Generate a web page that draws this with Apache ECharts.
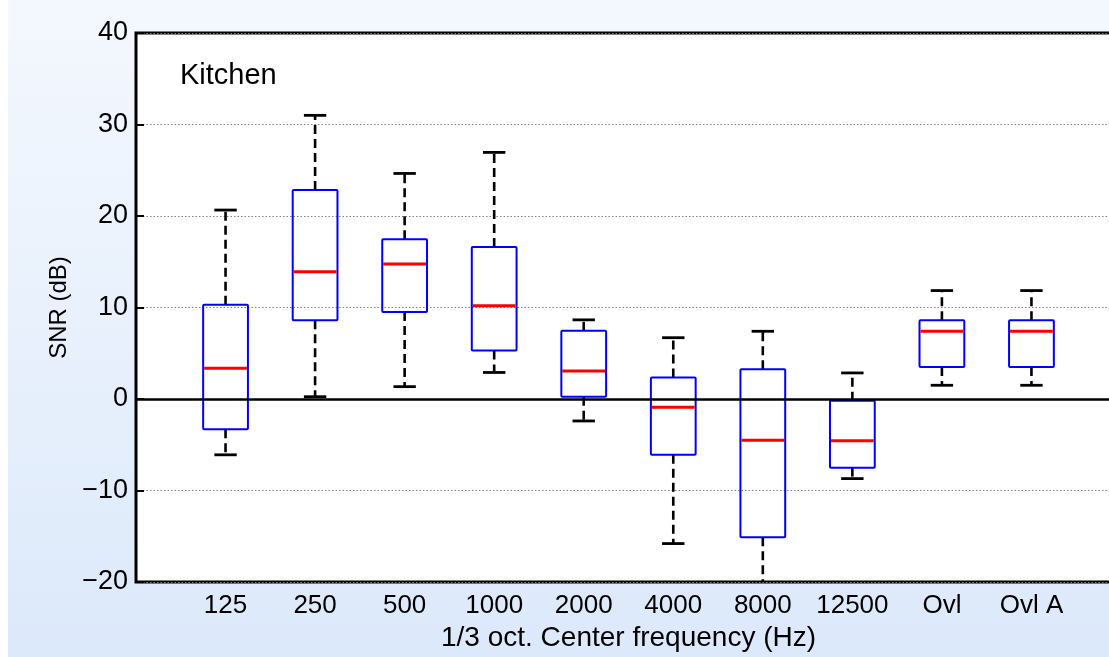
<!DOCTYPE html>
<html>
<head>
<meta charset="utf-8">
<title>Kitchen SNR boxplot</title>
<script src="https://cdn.jsdelivr.net/npm/echarts@6/dist/echarts.min.js"></script>
<style>
  html, body { margin: 0; padding: 0; background: #ffffff; }
  #chart { width: 1109px; height: 657px; }
</style>
</head>
<body>
<div id="chart"></div>
<script>
// ---- Data ----
const categories = ['125', '250', '500', '1000', '2000', '4000', '8000', '12500', 'Ovl', 'Ovl A'];
const whiskerLow  = [-6.1, 0.25, 1.35, 2.9, -2.4, -15.8, -22.0, -8.7, 1.5, 1.5];
const quartile1   = [-3.3, 8.6, 9.5, 5.3, 0.25, -6.1, -15.1, -7.5, 3.5, 3.5];
const medians     = [3.35, 13.9, 14.75, 10.2, 3.05, -0.9, -4.5, -4.55, 7.4, 7.4];
const quartile3   = [10.3, 22.85, 17.45, 16.6, 7.45, 2.35, 3.25, -0.2, 8.6, 8.6];
const whiskerHigh = [20.65, 31.0, 24.65, 26.95, 8.65, 6.7, 7.4, 2.85, 11.85, 11.85];
const yTicks = [-20, -10, 0, 10, 20, 30, 40];

const FONT = "'Liberation Sans', Arial, Helvetica, sans-serif";

// build [position, low, q1, median, q3, high] rows for the custom series
const boxRows = categories.map((c, i) => [i + 1, whiskerLow[i], quartile1[i], medians[i], quartile3[i], whiskerHigh[i]]);

function renderBox(params, api) {
  const x = api.value(0);
  const lo = api.coord([x, api.value(1)]);
  const q1 = api.coord([x, api.value(2)]);
  const md = api.coord([x, api.value(3)]);
  const q3 = api.coord([x, api.value(4)]);
  const hi = api.coord([x, api.value(5)]);
  const bw = api.size([0.5, 0])[0];
  const cw = api.size([0.25, 0])[0];
  const cx = q1[0];
  const dashStyle = { stroke: '#000', lineWidth: 2.6, lineDash: [9, 5], fill: null };
  const capStyle = { stroke: '#000', lineWidth: 2.8, fill: null };
  return {
    type: 'group',
    children: [
      { type: 'line', shape: { x1: cx, y1: q3[1], x2: cx, y2: hi[1] }, style: dashStyle },
      { type: 'line', shape: { x1: cx, y1: q1[1], x2: cx, y2: lo[1] }, style: dashStyle },
      { type: 'line', shape: { x1: cx - cw / 2, y1: hi[1], x2: cx + cw / 2, y2: hi[1] }, style: capStyle },
      { type: 'line', shape: { x1: cx - cw / 2, y1: lo[1], x2: cx + cw / 2, y2: lo[1] }, style: capStyle },
      { type: 'rect', shape: { x: cx - bw / 2, y: q3[1], width: bw, height: q1[1] - q3[1], r: 1 },
        style: { stroke: '#0000ff', lineWidth: 2, fill: null } },
      { type: 'line', shape: { x1: cx - bw / 2 + 1, y1: md[1], x2: cx + bw / 2 - 1, y2: md[1] },
        style: { stroke: '#ff0000', lineWidth: 3, fill: null } }
    ]
  };
}

const chart = echarts.init(document.getElementById('chart'), null, { renderer: 'canvas' });

const option = {
  animation: false,
  backgroundColor: '#ffffff',
  graphic: [
    {
      type: 'rect', z: -10, silent: true,
      shape: { x: 8, y: 0, width: 1101, height: 657 },
      style: {
        fill: new echarts.graphic.LinearGradient(0, 0, 0, 1, [
          { offset: 0, color: '#f4f8fe' },
          { offset: 1, color: '#dce9fa' }
        ])
      }
    },
    {
      type: 'text', left: 180, top: 61, z: 10,
      style: { text: 'Kitchen', font: "29px " + FONT, fill: '#000' }
    }
  ],
  grid: {
    left: 136, top: 33, right: -12, bottom: 75,
    outerBoundsMode: 'none',
    containLabel: false,
    show: true, backgroundColor: '#ffffff', borderColor: '#000', borderWidth: 3
  },
  xAxis: {
    type: 'value', min: 0, max: 11, interval: 1,
    name: '1/3 oct. Center frequency (Hz)',
    nameLocation: 'middle', nameGap: 39,
    nameTextStyle: { fontFamily: FONT, fontSize: 28, color: '#000' },
    axisLine: { show: false },
    axisTick: { show: false },
    splitLine: { show: false },
    axisLabel: {
      margin: 11, fontFamily: FONT, fontSize: 26, color: '#000',
      formatter: v => (v >= 1 && v <= categories.length) ? categories[v - 1] : ''
    }
  },
  yAxis: {
    type: 'value', min: yTicks[0], max: yTicks[yTicks.length - 1], interval: 10,
    name: 'SNR (dB)', nameLocation: 'middle', nameGap: 63, nameRotate: 90,
    nameTextStyle: { fontFamily: FONT, fontSize: 24, color: '#000' },
    axisLine: { show: false },
    axisTick: { show: true, inside: true, length: 8, lineStyle: { color: '#000', width: 2 } },
    splitLine: { show: true, lineStyle: { color: '#808080', width: 1.2, type: [1.5, 2] } },
    axisLabel: {
      margin: 8, fontFamily: FONT, fontSize: 27, color: '#000',
      formatter: v => (v < 0 ? '\u2212' + Math.abs(v) : String(v))
    }
  },
  series: [
    {
      type: 'custom',
      clip: true,
      renderItem: renderBox,
      encode: { x: 0, y: [1, 2, 3, 4, 5] },
      data: boxRows,
      markLine: {
        silent: true, symbol: 'none', animation: false,
        label: { show: false },
        lineStyle: { color: '#000', width: 2.5, type: 'solid' },
        data: [{ yAxis: 0 }]
      }
    }
  ]
};

chart.setOption(option);
</script>
</body>
</html>
